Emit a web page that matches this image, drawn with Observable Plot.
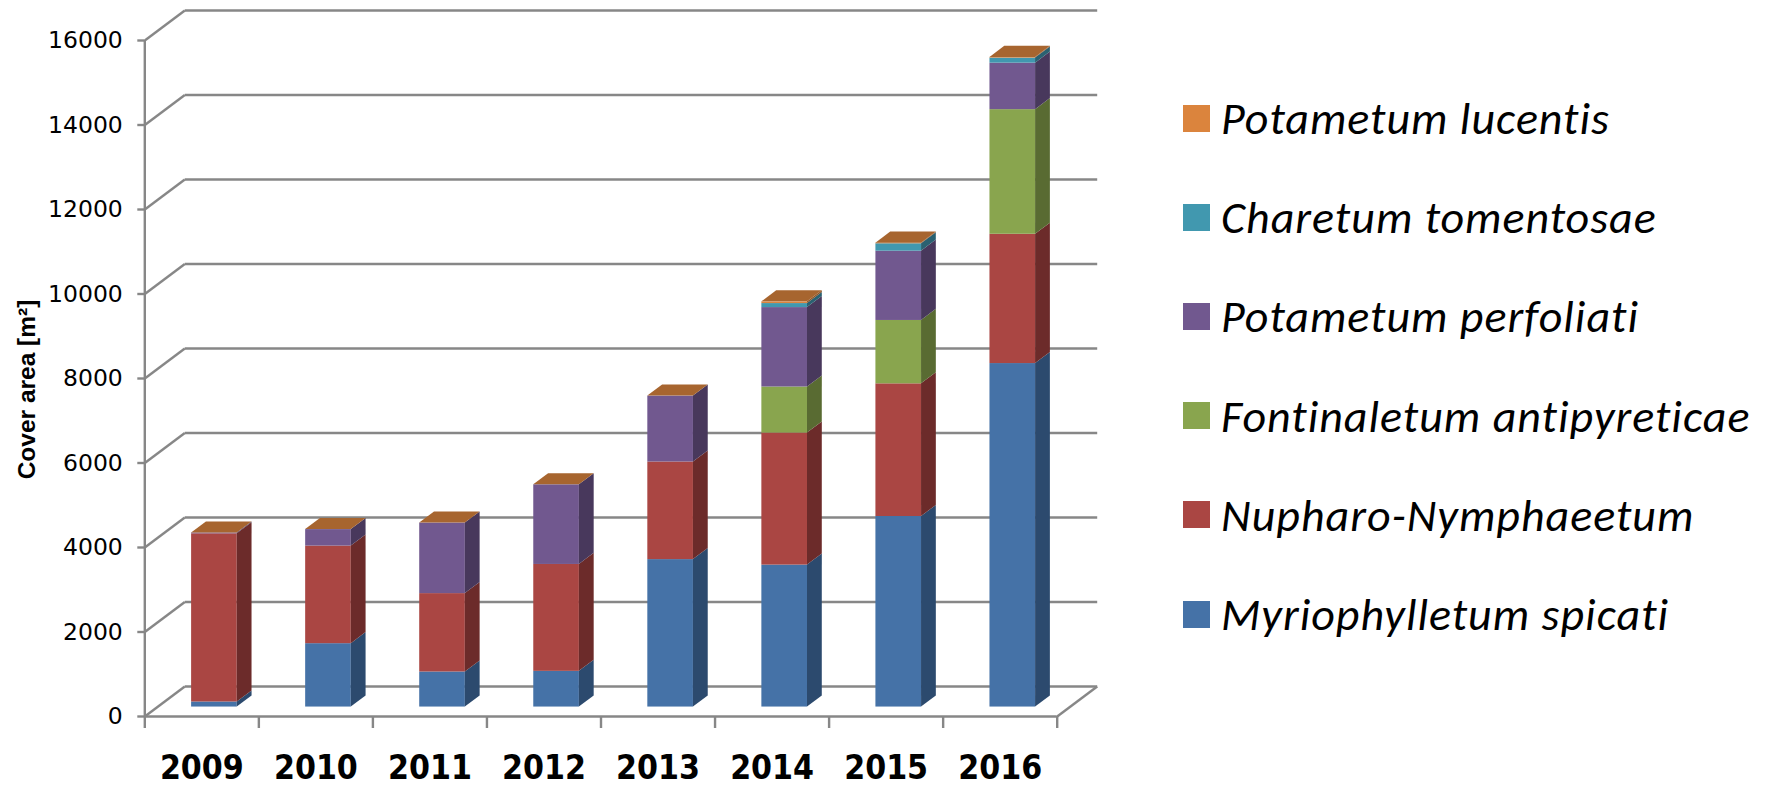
<!DOCTYPE html>
<html>
<head>
<meta charset="utf-8">
<script src="https://cdn.jsdelivr.net/npm/d3@7"></script>
<script src="https://cdn.jsdelivr.net/npm/@observablehq/plot@0.6"></script>
<style>
  body { margin: 0; background: #fff; }
  #wrap { position: relative; width: 1766px; height: 786px; overflow: hidden; background: #fff; }
  #chart { position: absolute; left: 0; top: 0; }
  #legend { position: absolute; left: 0; top: 0; width: 1766px; height: 786px; pointer-events: none; }
  .item { position: absolute; display: flex; align-items: center; white-space: nowrap;
          font-family: Carlito, Lato, "Open Sans", sans-serif; font-style: italic; font-size: 46px;
          letter-spacing: 1px; color: #000; }
  .swatch { display: inline-block; width: 27px; height: 27px; margin-right: 11px; }
</style>
</head>
<body>
<div id="wrap"><div id="chart"></div><div id="legend"></div></div>
<script>
// ---- data ----
const years = ["2009", "2010", "2011", "2012", "2013", "2014", "2015", "2016"];
const seriesNames = ["Myriophylletum spicati", "Nupharo-Nymphaeetum", "Fontinaletum antipyreticae",
                     "Potametum perfoliati", "Charetum tomentosae", "Potametum lucentis"];
const myriophylletum = [120, 1500, 830, 845, 3490, 3360, 4510, 8130];
const nupharo        = [3980, 2310, 1855, 2530, 2310, 3125, 3140, 3060];
const fontinaletum   = [0, 0, 0, 0, 0, 1090, 1500, 2950];
const perfoliati     = [20, 390, 1670, 1885, 1560, 1880, 1640, 1100];
const charetum       = [0, 0, 0, 0, 0, 95, 175, 120];
const lucentis       = [0, 0, 0, 0, 0, 40, 15, 15];
const yTicks = [0, 2000, 4000, 6000, 8000, 10000, 12000, 14000, 16000];

// ---- styles ----
const frontColors = ["#4572a7", "#aa4643", "#89a54e", "#71588f", "#4198af", "#db843d"];
const sideColors  = ["#2c4a6e", "#6c2b2a", "#596b32", "#48385c", "#2a6171", "#8e5527"];
const topColor = "#a7652f";
const gridColor = "#878787";

// ---- layout ----
const W = 1110, H = 786;
const pLeft = 144.3, pRight = 1056.7, pTop = 40, pBottom = 716;
const pxPerCat = (pRight - pLeft) / years.length;
const pxPerUnit = (pBottom - pTop) / 16000;
const depthPx = [40, 30];                 // floor depth: right and up
const ddx = depthPx[0] / pxPerCat;        // in category units
const ddy = depthPx[1] / pxPerUnit;       // in value units
const f1 = 0.315, f2 = 0.685, halfW = 0.2;

const seriesValues = [myriophylletum, nupharo, fontinaletum, perfoliati, charetum, lucentis];
const segs = [];
const totals = [];
years.forEach((yr, i) => {
  let acc = 0;
  seriesValues.forEach((vals, s) => {
    const lo = acc, hi = acc + vals[i];
    acc = hi;
    if (hi > lo) segs.push({i, s, lo, hi});
  });
  totals.push({i, t: acc});
});

const sidePts = segs.flatMap(d => [
  {k: d.i + "-" + d.s, c: sideColors[d.s], x: d.i + halfW + f1 * ddx, y1: d.lo + f1 * ddy, y2: d.hi + f1 * ddy},
  {k: d.i + "-" + d.s, c: sideColors[d.s], x: d.i + halfW + f2 * ddx, y1: d.lo + f2 * ddy, y2: d.hi + f2 * ddy}
]);

const topPts = totals.flatMap(d => {
  const T1 = d.t + f1 * ddy, T2 = d.t + f2 * ddy;
  const xl = d.i - halfW, xr = d.i + halfW;
  return [
    {k: d.i, x: xl + f1 * ddx, y1: T1, y2: T1},
    {k: d.i, x: xl + f2 * ddx, y1: T1, y2: T2},
    {k: d.i, x: xr + f1 * ddx, y1: T1, y2: T2},
    {k: d.i, x: xr + f2 * ddx, y1: T2, y2: T2}
  ];
});

const xStart = -0.5, xEnd = years.length - 0.5;
const backLines = yTicks.map(v => ({x1: xStart + ddx, x2: xEnd + ddx, y1: v + ddy, y2: v + ddy}));
const wallLines = yTicks.map(v => ({x1: xStart, x2: xStart + ddx, y1: v, y2: v + ddy}));
const floorRight = [{x1: xEnd, x2: xEnd + ddx, y1: 0, y2: ddy}];

const gridOpts = {x1: "x1", x2: "x2", y1: "y1", y2: "y2", stroke: gridColor, strokeWidth: 2.4};

const chart = Plot.plot({
  width: W, height: H,
  marginLeft: pLeft, marginRight: W - pRight, marginTop: pTop, marginBottom: H - pBottom,
  x: {type: "linear", domain: [xStart, xEnd]},
  y: {type: "linear", domain: [0, 16000]},
  color: {type: "identity"},
  style: {fontFamily: "DejaVu Sans, Verdana, sans-serif", fontSize: "23px", color: "#000", background: "#fff", overflow: "visible"},
  marks: [
    Plot.link(backLines, gridOpts),
    Plot.link(wallLines, gridOpts),
    Plot.link(floorRight, gridOpts),
    Plot.ruleX([xStart], {y1: 0, y2: 16000, stroke: gridColor, strokeWidth: 2.4}),
    Plot.ruleY([0], {x1: xStart, x2: xEnd, stroke: gridColor, strokeWidth: 2.4}),
    Plot.axisY({ticks: yTicks, tickSize: 7, tickPadding: 15, tickFormat: d => String(d),
                stroke: gridColor, strokeWidth: 2.4, color: "#000", fontSize: 23.5}),
    Plot.axisX({ticks: d3.range(xStart, xEnd + 0.01, 1), tickSize: 12, tickFormat: () => "",
                stroke: gridColor, strokeWidth: 2.4}),
    Plot.text(years, {x: (d, i) => i, y: () => 0, text: d => d, dy: 39, lineAnchor: "top",
                      fontSize: 33.5, fontWeight: "bold", fontFamily: "DejaVu Sans Condensed, DejaVu Sans, Verdana, sans-serif", fill: "#000"}),
    Plot.text(["Cover area [m²]"], {frameAnchor: "left", textAnchor: "middle", lineAnchor: "middle",
                      dx: -118, dy: 11, rotate: -90,
                      fontSize: 24.5, fontWeight: "bold", fontFamily: "Liberation Sans, Arial, sans-serif", fill: "#000"}),
    // bars
    Plot.rect(segs, {x1: d => d.i - halfW + f1 * ddx, x2: d => d.i + halfW + f1 * ddx,
                     y1: d => d.lo + f1 * ddy, y2: d => d.hi + f1 * ddy, fill: d => frontColors[d.s]}),
    Plot.area(sidePts, {x1: "x", y1: "y1", y2: "y2", z: "k", fill: "c"}),
    Plot.area(topPts, {x1: "x", y1: "y1", y2: "y2", z: "k", fill: topColor})
  ]
});
document.getElementById("chart").appendChild(chart);

// legend
const legend = document.getElementById("legend");
const order = [5, 4, 3, 2, 1, 0];
order.forEach((s, r) => {
  const item = document.createElement("div");
  item.className = "item";
  item.style.left = "1183px";
  item.style.top = (118 + r * 99.2 - 30) + "px";
  item.style.height = "60px";
  const sw = document.createElement("span");
  sw.className = "swatch";
  sw.style.background = frontColors[s];
  const tx = document.createElement("span");
  tx.textContent = seriesNames[s];
  item.appendChild(sw); item.appendChild(tx);
  legend.appendChild(item);
});
</script>
</body>
</html>
